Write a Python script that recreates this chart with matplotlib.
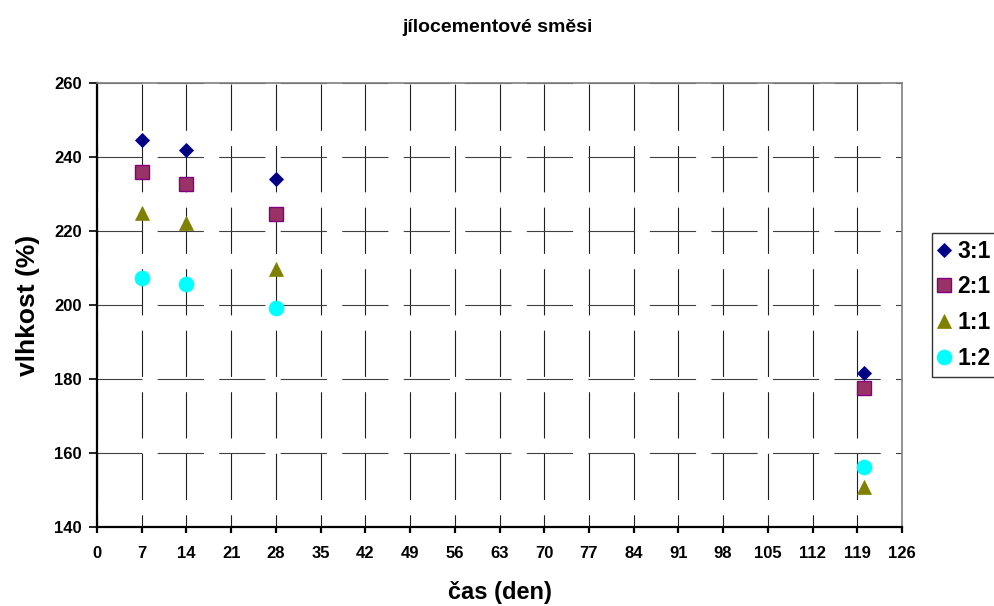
import matplotlib.pyplot as plt
import numpy as np

plt.rcParams['font.family'] = ['Liberation Sans', 'DejaVu Sans']
plt.rcParams['font.weight'] = 'bold'
plt.rcParams['lines.scale_dashes'] = False

# Data: moisture of clay-cement mixtures over time
cas = [7, 14, 28, 120]
pomer_31 = [244.6, 242.0, 234.1, 181.7]
pomer_21 = [236.0, 232.6, 224.7, 177.5]
pomer_11 = [225.0, 222.2, 209.8, 150.7]
pomer_12 = [207.2, 205.7, 199.2, 156.3]
popisky = ['3:1', '2:1', '1:1', '1:2']

x_ticks = np.arange(0, 127, 7)
y_ticks = np.arange(140, 261, 20)

fig = plt.figure(figsize=(9.94, 6.06), dpi=100)
ax = fig.add_axes([97 / 994, 1 - 527 / 606, (902 - 97) / 994, (527 - 83) / 606])

ax.plot(cas, pomer_31, linestyle='none', marker='D', ms=7.6,
        mfc='#000080', mec='#0000b0', mew=0.6, label=popisky[0], zorder=3)
ax.plot(cas, pomer_21, linestyle='none', marker='s', ms=9.8,
        mfc='#993366', mec='#800080', mew=1.0, label=popisky[1], zorder=3)
ax.plot(cas, pomer_11, linestyle='none', marker='^', ms=10.5,
        mfc='#808000', mec='#808000', mew=0.5, label=popisky[2], zorder=3)
ax.plot(cas, pomer_12, linestyle='none', marker='o', ms=10.8,
        mfc='#00ffff', mec='#00ffff', mew=0.5, label=popisky[3], zorder=3)

ax.set_xlim(0, 126)
ax.set_ylim(140, 260)
ax.set_xticks(x_ticks)
ax.set_yticks(y_ticks)

# dashed grid, vertical dashes aligned from the top
ax.xaxis.grid(True, color='#202020', lw=0.8, linestyle=(24.5, (33.3, 11.0)))
ax.yaxis.grid(True, color='#404040', lw=0.8, linestyle=(1.0, (33.3, 11.0)))
ax.set_axisbelow(True)

for side in ['top', 'right']:
    ax.spines[side].set_color('#808080')
    ax.spines[side].set_linewidth(1.2)
for side in ['left', 'bottom']:
    ax.spines[side].set_color('black')
    ax.spines[side].set_linewidth(1.6)

ax.tick_params(axis='x', direction='out', length=4.5, width=1.6, pad=9.5, labelsize=12)
ax.tick_params(axis='y', direction='out', length=6, width=1.2, pad=5, labelsize=12)

ax.set_xlabel('čas (den)', fontsize=17, fontweight='bold', labelpad=14)
ax.set_ylabel('vlhkost (%)', fontsize=19, fontweight='bold', labelpad=10)
fig.text(0.5, 1 - 28 / 606, 'jílocementové směsi', ha='center', va='center',
         fontsize=14, fontweight='bold')

leg = fig.legend(loc='upper left', bbox_to_anchor=(932 / 994, 1 - 233 / 606),
                 frameon=True, fancybox=False, edgecolor='black', fontsize=16.5,
                 handlelength=0.45, handletextpad=0.35, labelspacing=0.55,
                 borderpad=0.3, borderaxespad=0)
leg.get_frame().set_linewidth(1.0)

fig.savefig('out.png', dpi=100)
